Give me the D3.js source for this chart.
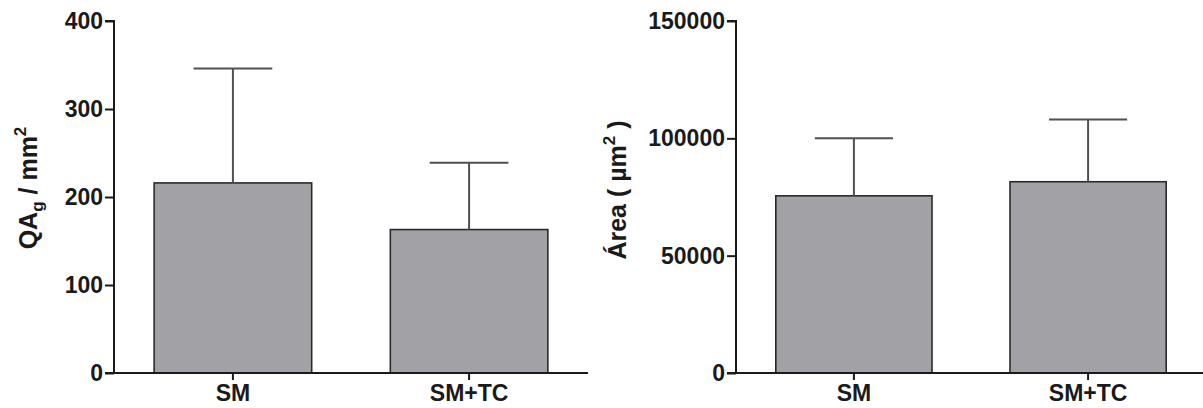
<!DOCTYPE html>
<html>
<head>
<meta charset="utf-8">
<script src="https://cdn.jsdelivr.net/npm/d3@7"></script>
<style>
  html, body { margin: 0; padding: 0; background: #fff; }
  svg { display: block; }
  text { font-family: "Liberation Sans", Arial, sans-serif; font-weight: bold; fill: #1a1a1a; }
</style>
</head>
<body>
<svg id="chart" width="1203" height="408"></svg>
<script>
// Groups shown on both panels
const categories = ["SM", "SM+TC"];

// Panel A: QAg / mm² (mean and upper error)
const qagMeans = [216, 163];
const qagErrors = [130, 76];
const qagTicks = [0, 100, 200, 300, 400];

// Panel B: area in µm² (mean and upper error)
const areaMeans = [75500, 81500];
const areaErrors = [24500, 26500];
const areaTicks = [0, 50000, 100000, 150000];

const svg = d3.select("#chart");
const FONT = '"Liberation Sans", Arial, sans-serif';

function panel(opts) {
  const g = svg.append("g");
  const x = d3.scaleBand()
    .domain(categories)
    .range([opts.left, opts.right])
    .paddingInner(0.333)
    .paddingOuter(0.17);
  const y = d3.scaleLinear()
    .domain([0, opts.max])
    .range([373, 21]);

  // bars
  g.selectAll("rect.bar")
    .data(opts.means)
    .join("rect")
    .attr("class", "bar")
    .attr("x", (d, i) => x(categories[i]))
    .attr("y", d => y(d))
    .attr("width", x.bandwidth())
    .attr("height", d => y(0) - y(d))
    .attr("fill", "#a2a2a6")
    .attr("stroke", "#2a2a2a")
    .attr("stroke-width", 1.6);

  // upper error bars
  const eb = g.selectAll("g.err")
    .data(opts.means)
    .join("g")
    .attr("class", "err")
    .attr("stroke", "#505050")
    .attr("stroke-width", 2);
  eb.append("line")
    .attr("x1", (d, i) => x(categories[i]) + x.bandwidth() / 2)
    .attr("x2", (d, i) => x(categories[i]) + x.bandwidth() / 2)
    .attr("y1", d => y(d))
    .attr("y2", (d, i) => y(d + opts.errors[i]));
  eb.append("line")
    .attr("x1", (d, i) => x(categories[i]) + x.bandwidth() / 4)
    .attr("x2", (d, i) => x(categories[i]) + x.bandwidth() * 3 / 4)
    .attr("y1", (d, i) => y(d + opts.errors[i]))
    .attr("y2", (d, i) => y(d + opts.errors[i]));

  // y axis
  const yAxis = g.append("g")
    .attr("transform", `translate(${opts.left},0)`)
    .call(d3.axisLeft(y).tickValues(opts.ticks).tickSize(9).tickPadding(2).tickFormat(d3.format("d")));
  yAxis.selectAll("path, line").attr("stroke", "#1a1a1a").attr("stroke-width", 2);
  yAxis.select(".domain").attr("d", `M-9,${y(opts.max)}H0V${y(0)}H-9`);
  yAxis.selectAll("text").attr("font-size", 23).attr("fill", "#1a1a1a")
    .style("font-family", FONT).style("font-weight", "bold");

  // x axis
  const xAxis = g.append("g")
    .attr("transform", `translate(0,${y(0)})`)
    .call(d3.axisBottom(x).tickSize(7).tickPadding(5));
  xAxis.selectAll("path, line").attr("stroke", "#1a1a1a").attr("stroke-width", 2);
  xAxis.select(".domain").attr("d", `M${opts.left},0H${opts.right}`);
  xAxis.selectAll("text").attr("font-size", 23).attr("fill", "#1a1a1a")
    .style("font-family", FONT).style("font-weight", "bold");

  // y axis title
  const title = g.append("text")
    .attr("transform", `translate(${opts.titleX},${opts.titleY}) rotate(-90)`)
    .attr("text-anchor", "middle")
    .attr("font-size", 25);
  opts.title(title);
}

panel({
  left: 114, right: 588, max: 400,
  means: qagMeans, errors: qagErrors, ticks: qagTicks,
  titleX: 37, titleY: 188,
  title: t => {
    t.append("tspan").text("QA");
    t.append("tspan").attr("font-size", 17).attr("dy", 6).text("g");
    t.append("tspan").attr("dy", -6).text(" / mm");
    t.append("tspan").attr("font-size", 17).attr("dy", -11).text("2");
  }
});

panel({
  left: 736, right: 1206, max: 150000,
  means: areaMeans, errors: areaErrors, ticks: areaTicks,
  titleX: 626, titleY: 190,
  title: t => {
    t.append("tspan").text("Área ( µm");
    t.append("tspan").attr("font-size", 17).attr("dy", -11).text("2");
    t.append("tspan").attr("dy", 11).text(" )");
  }
});
</script>
</body>
</html>
